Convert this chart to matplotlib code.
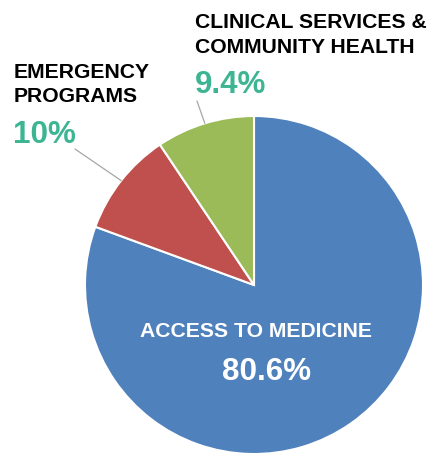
import numpy as np
import matplotlib.pyplot as plt

plt.rcParams['font.family'] = ['Liberation Sans', 'DejaVu Sans']

# data
categories = ['ACCESS TO MEDICINE', 'EMERGENCY\nPROGRAMS', 'CLINICAL SERVICES &\nCOMMUNITY HEALTH']
values = [80.6, 10.0, 9.4]
labels = ['80.6%', '10%', '9.4%']
colors = ['#4F81BD', '#C0504D', '#9BBB59']
teal = '#3DB592'

W, H = 432, 455
fig = plt.figure(figsize=(W / 100, H / 100), dpi=100)


def px(x, y):
    return x / W, 1 - y / H


# pie centred at (254, 285) px with radius 169 px
cx, cy, r = 254, 285, 169
ax = fig.add_axes([(cx - r) / W, (H - cy - r) / H, 2 * r / W, 2 * r / H])
wedges, _ = ax.pie(values, colors=colors, startangle=90, counterclock=False,
                   radius=1, wedgeprops=dict(edgecolor='white', linewidth=1.5))
ax.set_xlim(-1, 1)
ax.set_ylim(-1, 1)
ax.set_aspect('equal')
ax.axis('off')

# leader lines from the middle of the small wedges
for w, tx, ty in [(wedges[1], 75, 149), (wedges[2], 197, 101)]:
    mid = np.deg2rad((w.theta1 + w.theta2) / 2)
    ax.annotate('', xy=(np.cos(mid), np.sin(mid)), xycoords='data',
                xytext=px(tx, ty), textcoords='figure fraction',
                arrowprops=dict(arrowstyle='-', color='#A6A6A6', lw=0.9,
                                shrinkA=0, shrinkB=0))

lab = dict(fontsize=15.2, fontweight='bold', ha='left', va='baseline')
big = dict(fontsize=22.6, fontweight='bold', va='baseline')

# emergency programs
l1, l2 = categories[1].split('\n')
fig.text(*px(14, 78), l1, color='black', **lab)
fig.text(*px(14, 102), l2, color='black', **lab)
fig.text(*px(13, 143), labels[1], color=teal, ha='left', **big)

# clinical services
l1, l2 = categories[2].split('\n')
fig.text(*px(195, 28), l1, color='black', **lab)
fig.text(*px(195, 53), l2, color='black', **lab)
fig.text(*px(195, 93), labels[2], color=teal, ha='left', **big)

# access to medicine
fig.text(*px(256, 337), categories[0], color='white', fontsize=15.2,
         fontweight='bold', ha='center', va='baseline')
fig.text(*px(267, 380), labels[0], color='white', ha='center', **big)

fig.savefig('out.png', dpi=100)
